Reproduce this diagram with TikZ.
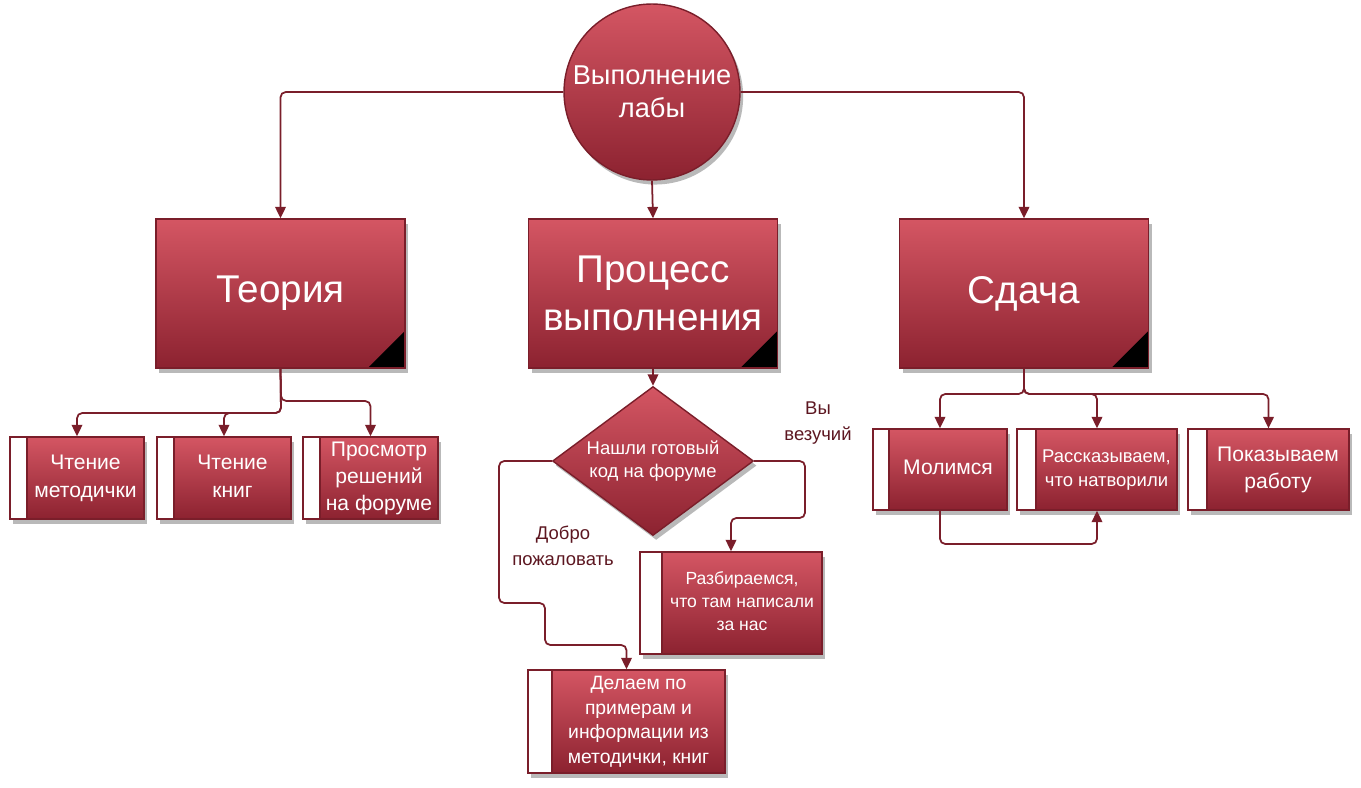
\documentclass[tikz,border=0pt]{standalone}
\usepackage{fontspec}
\setmainfont{Liberation Sans}
\usetikzlibrary{arrows.meta, shapes.geometric, shadows}

\definecolor{redtop}{RGB}{212,86,99}
\definecolor{redbot}{RGB}{140,34,48}
\definecolor{redline}{RGB}{122,30,42}
\definecolor{redtext}{RGB}{92,22,32}

\newcommand{\fsz}[2]{\fontsize{#1}{#2}\selectfont}
\newcommand{\tasklines}[1]{\hspace*{\bandw}\begin{tabular}{@{}c@{}}#1\end{tabular}}

\begin{document}
\begin{tikzpicture}[x=0.02cm, y=-0.02cm,
  red/.style={draw=redline, line width=0.8pt, top color=redtop, bottom color=redbot, text=white,
    drop shadow={shadow xshift=1.8pt, shadow yshift=-2.6pt, opacity=0.55}},
  stage/.style={red, rectangle, minimum width=4.98cm, minimum height=2.98cm, align=center, font=\fsz{22}{27},
    path picture={\fill[black] (path picture bounding box.south east) -- ++(-0.74cm,0) -- ++(0.74cm,0.74cm) -- cycle;}},
  task/.style={red, rectangle, inner sep=0pt,
    path picture={\fill[white] (path picture bounding box.south west) rectangle ([xshift=#1]path picture bounding box.north west);
      \draw[redline, line width=0.8pt] ([xshift=#1]path picture bounding box.south west) -- ([xshift=#1]path picture bounding box.north west);},
    execute at begin node={\def\bandw{#1}}},
  link/.style={draw=redline, line width=1pt, rounded corners=3pt, -{Triangle[length=6.5pt, width=6pt]}},
  note/.style={text=redtext, align=center, font=\fsz{10.5}{15}}
]
  \useasboundingbox (0,0) rectangle (1361,787);

  % Start
  \node[red, circle, minimum size=3.52cm, inner sep=0pt, align=center, font=\fsz{15.5}{19}] (lab) at (652,92) {Выполнение\\лабы};

  % Stages
  \node[stage] (teo) at (280.5,293.5) {Теория};
  \node[stage] (pro) at (653,293.5) {Процесс\\выполнения};
  \node[stage] (sda) at (1024,293.5) {Сдача};

  % Theory
  \node[task=0.34cm, minimum width=2.68cm, minimum height=1.64cm, font=\fsz{12}{15.5}] (met) at (77,478) {\tasklines{Чтение\\методички}};
  \node[task=0.34cm, minimum width=2.68cm, minimum height=1.64cm, font=\fsz{12}{15.5}] (kni) at (224,478) {\tasklines{Чтение\\книг}};
  \node[task=0.34cm, minimum width=2.70cm, minimum height=1.64cm, font=\fsz{12}{15.5}] (for) at (370.5,478) {\tasklines{Просмотр\\решений\\на форуме}};

  % Process
  \node[red, diamond, aspect=1.35, minimum width=4.02cm, minimum height=2.98cm, inner sep=0pt, align=center, font=\fsz{10.5}{13}] (dia) at (653,461) {Нашли готовый\\код на форуме};
  \node[task=0.44cm, minimum width=3.64cm, minimum height=2.04cm, font=\fsz{10}{13}] (raz) at (731,603) {\tasklines{Разбираемся,\\что там написали\\за нас}};
  \node[task=0.48cm, minimum width=3.94cm, minimum height=2.06cm, font=\fsz{11}{14}] (del) at (626.5,721.5) {\tasklines{Делаем по\\примерам и\\информации из\\методички, книг}};
  \node[note] (luck) at (818,423) {Вы\\везучий};
  \node[note] (welc) at (563,546) {Добро\\пожаловать};

  % Handing in
  \node[task=0.32cm, minimum width=2.68cm, minimum height=1.62cm, font=\fsz{12}{15.5}] (mol) at (940,469.5) {\tasklines{Молимся}};
  \node[task=0.38cm, minimum width=3.20cm, minimum height=1.62cm, font=\fsz{10.5}{13.5}] (ras) at (1097,469.5) {\tasklines{Рассказываем,\\что натворили}};
  \node[task=0.38cm, minimum width=3.22cm, minimum height=1.62cm, font=\fsz{12}{15.5}] (pok) at (1268.5,469.5) {\tasklines{Показываем\\работу}};

  % Connectors
  \draw[link] (lab.west) -| (teo.north);
  \draw[link] (lab.east) -| (sda.north);
  \draw[link] (lab.south) -- (pro.north);

  \draw[link] (teo.south) -- (281,401) -| (for.north);
  \draw[link] (teo.south) -- (281,413) -| (met.north);
  \draw[link] (teo.south) -- (281,413) -| (kni.north);

  \draw[link] (pro.south) -- (dia.north);
  \draw[link] (dia.east) -| (805,518) -| (raz.north);
  \draw[link] (dia.west) -| (499,603) -| (545,645) -| (del.north);

  \draw[link] (sda.south) -- (1024,394) -| (mol.north);
  \draw[link] (sda.south) -- (1024,394) -| (ras.north);
  \draw[link] (sda.south) -- (1024,394) -| (pok.north);
  \draw[link] (mol.south) -- (940,544) -| (ras.south);
\end{tikzpicture}
\end{document}
